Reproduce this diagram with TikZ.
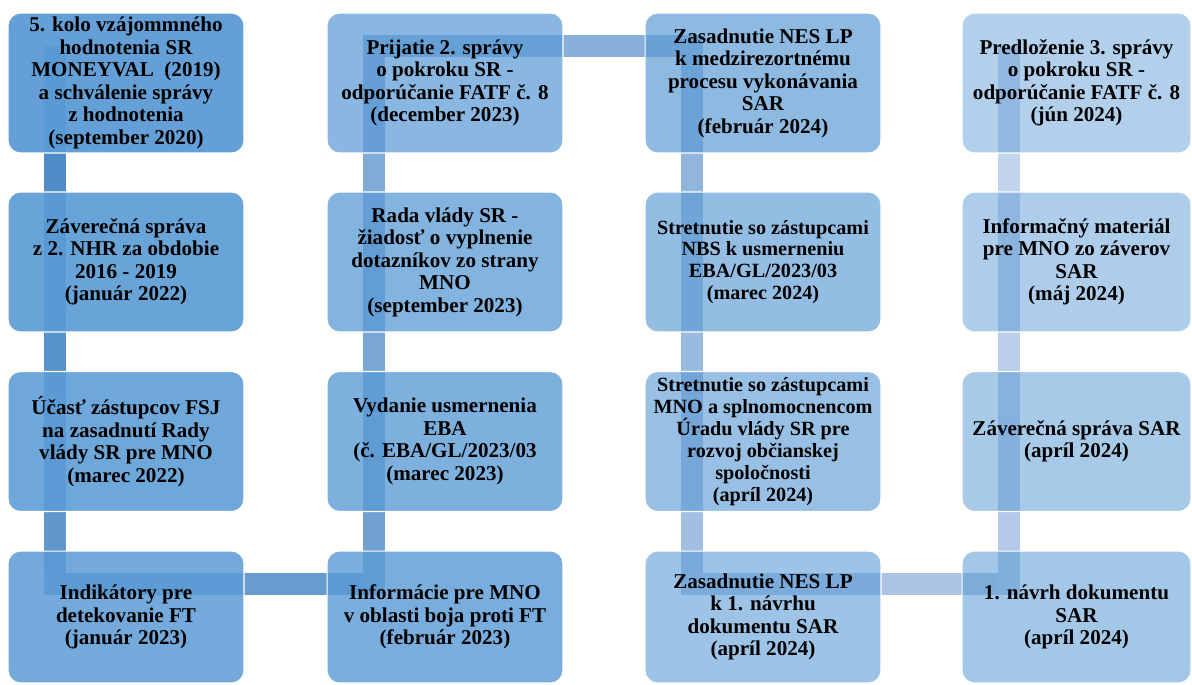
\documentclass[tikz,border=0pt]{standalone}
\usepackage{fontspec}
\setmainfont{Liberation Serif}
\usetikzlibrary{backgrounds}
\definecolor{boxF}{RGB}{91,155,213}
\definecolor{linA}{RGB}{80,141,200}
\definecolor{linB}{RGB}{195,211,236}
\tikzset{
  phase/.style={rounded corners=0.25cm, draw=white, line width=0.6pt,
    fill=boxF, fill opacity=#1, text opacity=1, align=center,
    inner sep=0pt, minimum width=4.72cm, minimum height=2.8cm,
    font=\fontsize{12}{12.8}\selectfont\bfseries},
  link/.style={line width=0.43cm, draw=linA!#1!linB, line cap=rect},
  joint/.style={xshift=0.95cm, yshift=-0.67cm},
}
\begin{document}
\begin{tikzpicture}[x=0.02cm, y=-0.02cm]
            \useasboundingbox (0,0) rectangle (1192,684);
            
            % Column 1 (down)
            \node [phase=0.945] (b1) at (126,83) {5. kolo vzájommného\\ hodnotenia SR\\ MONEYVAL\ \ (2019)\\ a schválenie správy\\ z hodnotenia\\ (september 2020)};%
            \node [phase=0.913] (b2) at (126,262) {Záverečná správa\\ z 2. NHR za obdobie\\ 2016 - 2019\\ (január 2022)};%
            \node [phase=0.882] (b3) at (126,441.5) {Účasť zástupcov FSJ\\ na zasadnutí Rady\\ vlády SR pre MNO\\ (marec 2022)};%
            \node [phase=0.850, minimum height=2.64cm] (b4) at (126,617) {Indikátory pre\\ detekovanie FT\\ (január 2023)};%
            
            % Column 2 (up)
            \node [phase=0.818, minimum height=2.64cm] (b5) at (445,617) {Informácie pre MNO\\ v oblasti boja proti FT\\ (február 2023)};%
            \node [phase=0.787] (b6) at (445,441.5) {Vydanie usmernenia\\ EBA\\ (č. EBA/GL/2023/03\\ (marec 2023)};%
            \node [phase=0.755] (b7) at (445,262) {Rada vlády SR -\\ žiadosť o vyplnenie\\ dotazníkov zo strany\\ MNO\\ (september 2023)};%
            \node [phase=0.723] (b8) at (445,83) {Prijatie 2. správy\\ o pokroku SR -\\ odporúčanie FATF č. 8\\ (december 2023)};%
            
            % Column 3 (down)
            \node [phase=0.692] (b9) at (763,83) {Zasadnutie NES LP\\ k medzirezortnému\\ procesu vykonávania\\ SAR\\ (február 2024)};%
            \node [phase=0.660, font=\fontsize{11.5}{12.4}\selectfont\bfseries] (b10) at (763,262) {Stretnutie so zástupcami\\ NBS k usmerneniu\\ EBA/GL/2023/03\\ (marec 2024)};%
            \node [phase=0.628, font=\fontsize{11.5}{12.6}\selectfont\bfseries] (b11) at (763,441.5) {Stretnutie so zástupcami\\ MNO a splnomocnencom\\ Úradu vlády SR pre\\ rozvoj občianskej\\ spoločnosti\\ (apríl 2024)};%
            \node [phase=0.597, minimum height=2.64cm] (b12) at (763,617) {Zasadnutie NES LP\\ k 1. návrhu\\ dokumentu SAR\\ (apríl 2024)};%
            
            % Column 4 (up)
            \node [phase=0.565, minimum width=4.58cm, minimum height=2.64cm] (b13) at (1076.5,617) {1. návrh dokumentu\\ SAR\\ (apríl 2024)};%
            \node [phase=0.533, minimum width=4.58cm] (b14) at (1076.5,441.5) {Záverečná správa SAR\\ (apríl 2024)};%
            \node [phase=0.502, minimum width=4.58cm] (b15) at (1076.5,262) {Informačný materiál\\ pre MNO zo záverov\\ SAR\\ (máj 2024)};%
            \node [phase=0.470, minimum width=4.58cm] (b16) at (1076.5,83) {Predloženie 3. správy\\ o pokroku SR -\\ odporúčanie FATF č. 8\\ (jún 2024)};%
            
            % Joints of the bent bar inside each box
            \foreach \i in {1,...,16}
              \coordinate (j\i) at ([joint]b\i.north west);
            
            % Drawing the bent bar behind the boxes
            \begin{scope}[on background layer]
            \draw [link=100, line cap=butt] (j1) -- (j2);%
            \draw [link=93] (j2) -- (j3);%
            \draw [link=86] (j3) -- (j4);%
            \draw [link=79] (j4) -- (j5);%
            \draw [link=71] (j5) -- (j6);%
            \draw [link=64] (j6) -- (j7);%
            \draw [link=57] (j7) -- (j8);%
            \draw [link=50] (j8) -- (j9);%
            \draw [link=43] (j9) -- (j10);%
            \draw [link=36] (j10) -- (j11);%
            \draw [link=29] (j11) -- (j12);%
            \draw [link=21] (j12) -- (j13);%
            \draw [link=14] (j13) -- (j14);%
            \draw [link=7] (j14) -- (j15);%
            \draw [link=0, line cap=butt] (j15) -- (j16);%
            \end{scope}
        \end{tikzpicture}
\end{document}
